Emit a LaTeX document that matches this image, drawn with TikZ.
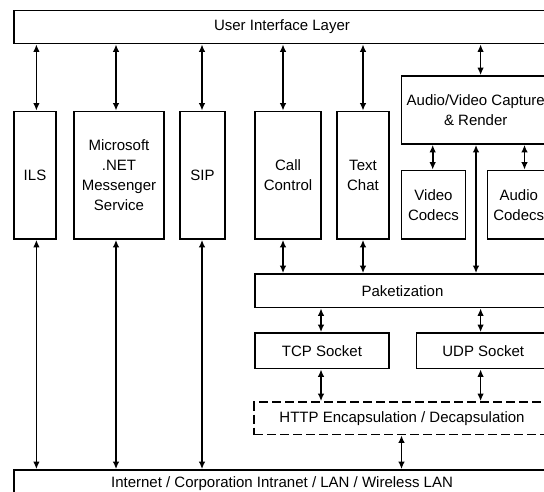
\documentclass[tikz,border=0pt]{standalone}
\usepackage{fontspec}
\setmainfont{Liberation Sans}
\usetikzlibrary{arrows.meta}
\begin{document}
\begin{tikzpicture}[x=1pt,y=-1pt,
  box/.style={draw,line width=1.7pt,inner sep=0pt,align=center,
    font=\fontsize{15}{20}\selectfont},
  arr/.style={line width=1.7pt,{Latex[length=7.5pt,width=6.5pt]}-{Latex[length=7.5pt,width=6.5pt]}}]
\useasboundingbox (0,0) rectangle (544,492);
\clip (0,0) rectangle (544,492);
% boxes
\node[box,minimum width=536pt,minimum height=33pt] (ui) at (282,27) {User Interface Layer};
\node[box,minimum width=42pt,minimum height=127.5pt] (ils) at (35,175.25) {ILS};
\node[box,minimum width=90pt,minimum height=127.5pt] (ms) at (119,175.25) {Microsoft\\.NET\\Messenger\\Service};
\node[box,minimum width=45pt,minimum height=127.5pt] (sip) at (202.5,175.25) {SIP};
\node[box,minimum width=66pt,minimum height=127.5pt] (call) at (288,175.25) {Call\\Control};
\node[box,minimum width=52pt,minimum height=127.5pt] (text) at (363,175.25) {Text\\Chat};
\node[box,minimum width=148.5pt,minimum height=68pt] (av) at (475.75,110) {Audio/Video Capture\\\& Render};
\node[box,minimum width=64pt,minimum height=68.5pt] (video) at (433.5,204.75) {Video\\Codecs};
\node[box,minimum width=62.5pt,minimum height=68.5pt] (audio) at (518.75,204.75) {Audio\\Codecs};
\node[box,minimum width=295pt,minimum height=33.5pt] (pak) at (402.5,290.75) {Paketization};
\node[box,minimum width=134pt,minimum height=35.5pt] (tcp) at (322,350.75) {TCP Socket};
\node[box,minimum width=133.5pt,minimum height=35.5pt] (udp) at (483.25,350.75) {UDP Socket};
\node[box,dash pattern=on 9pt off 4pt,minimum width=296pt,minimum height=32.5pt] (http) at (402,418.25) {HTTP Encapsulation / Decapsulation};
\node[box,minimum width=536pt,minimum height=28pt] (inet) at (282,484) {Internet / Corporation Intranet / LAN / Wireless LAN};
% column coordinates
\coordinate (c1) at (36.4,0);
\coordinate (c2) at (116,0);
\coordinate (c3) at (202,0);
\coordinate (c4) at (283,0);
\coordinate (c5) at (363,0);
\coordinate (c6) at (480.6,0);
\coordinate (c7) at (432.7,0);
\coordinate (c8) at (524.5,0);
\coordinate (c9) at (476,0);
\coordinate (c10) at (321,0);
\coordinate (c11) at (401.5,0);
% connectors
\draw[arr] (ui.south -| c1) -- (ils.north -| c1);
\draw[arr] (ui.south -| c2) -- (ms.north -| c2);
\draw[arr] (ui.south -| c3) -- (sip.north -| c3);
\draw[arr] (ui.south -| c4) -- (call.north -| c4);
\draw[arr] (ui.south -| c5) -- (text.north -| c5);
\draw[arr] (ui.south -| c6) -- (av.north -| c6);
\draw[arr] (av.south -| c7) -- (video.north -| c7);
\draw[arr] (av.south -| c8) -- (audio.north -| c8);
\draw[arr] (av.south -| c9) -- (pak.north -| c9);
\draw[arr] (call.south -| c4) -- (pak.north -| c4);
\draw[arr] (text.south -| c5) -- (pak.north -| c5);
\draw[arr] (pak.south -| c10) -- (tcp.north -| c10);
\draw[arr] (pak.south -| c6) -- (udp.north -| c6);
\draw[arr] (tcp.south -| c10) -- (http.north -| c10);
\draw[arr] (udp.south -| c6) -- (http.north -| c6);
\draw[arr] (http.south -| c11) -- (inet.north -| c11);
\draw[arr] (ils.south -| c1) -- (inet.north -| c1);
\draw[arr] (ms.south -| c2) -- (inet.north -| c2);
\draw[arr] (sip.south -| c3) -- (inet.north -| c3);
\end{tikzpicture}
\end{document}
